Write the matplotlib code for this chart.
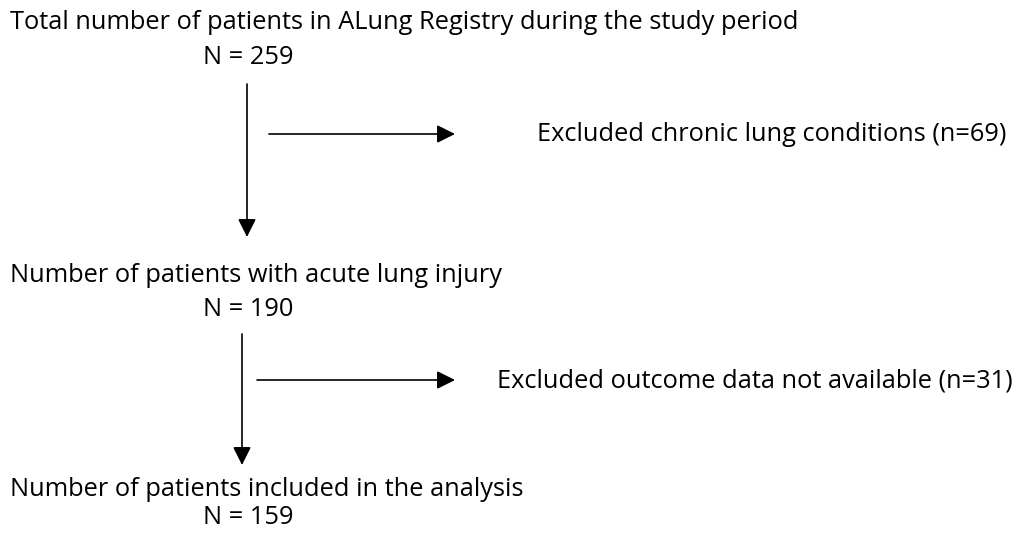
import matplotlib
matplotlib.use("Agg")
import matplotlib.pyplot as plt

plt.rcParams['font.family'] = ['Open Sans', 'DejaVu Sans']

stage_labels = [
    "Total number of patients in ALung Registry during the study period",
    "Number of patients with acute lung injury",
    "Number of patients included in the analysis",
]
stage_counts = [259, 190, 159]
exclusion_labels = [
    "Excluded chronic lung conditions",
    "Excluded outcome data not available",
]
exclusion_counts = [69, 31]

W, H = 1035, 535
fig = plt.figure(figsize=(W / 100, H / 100), dpi=100)
ax = fig.add_axes([0, 0, 1, 1])
ax.set_xlim(0, W)
ax.set_ylim(H, 0)
ax.axis('off')

fs = 18.3
stage_base = [29, 282, 496]
count_base = [64, 316, 524]
for lab, n, yb, yc in zip(stage_labels, stage_counts, stage_base, count_base):
    ax.text(10, yb, lab, fontsize=fs, va='baseline', ha='left', color='black')
    ax.text(203, yc, f"N = {n}", fontsize=fs, va='baseline', ha='left', color='black')

vert = [(247, 84, 237), (242, 334, 465)]
horiz = [(134, 269, 455), (380, 257, 455)]
ex_x = [537, 497]
ex_base = [141, 387]

style = '-|>,head_length=1.1,head_width=0.55'
for x, y0, y1 in vert:
    ax.annotate('', xy=(x, y1), xytext=(x, y0),
                arrowprops=dict(arrowstyle=style, color='black', lw=1.2,
                                shrinkA=0, shrinkB=0, mutation_scale=10))
for y, x0, x1 in horiz:
    ax.annotate('', xy=(x1, y), xytext=(x0, y),
                arrowprops=dict(arrowstyle=style, color='black', lw=1.2,
                                shrinkA=0, shrinkB=0, mutation_scale=10))

for lab, n, x, yb in zip(exclusion_labels, exclusion_counts, ex_x, ex_base):
    ax.text(x, yb, f"{lab} (n={n})", fontsize=fs, va='baseline', ha='left', color='black')

fig.savefig('out.png', dpi=100, facecolor='white')
